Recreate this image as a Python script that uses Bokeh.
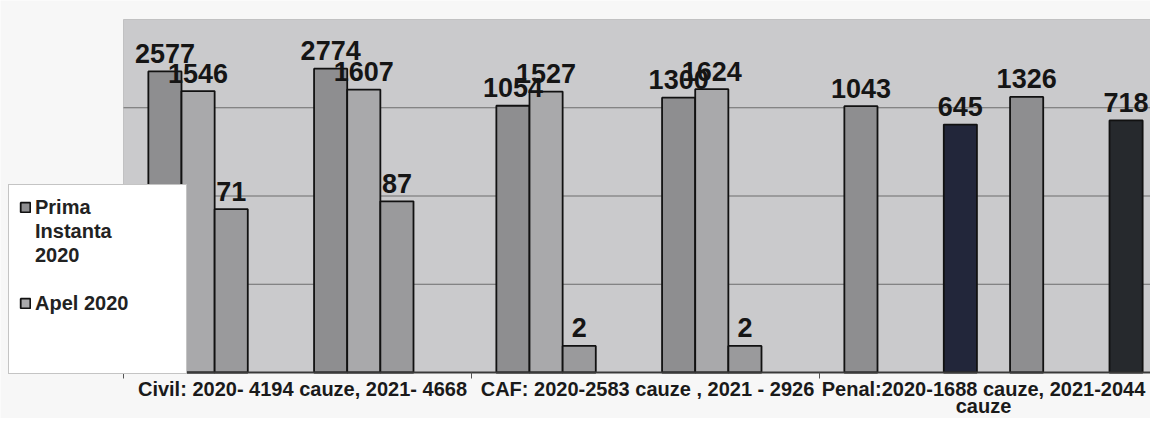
import math
from bokeh.plotting import figure
from bokeh.models import ColumnDataSource, Range1d, Legend, LegendItem, BoxAnnotation
from bokeh.embed import file_html
from bokeh.resources import INLINE
from bokeh.core.properties import value

# ---------------- data ----------------
categories = [
    "Civil: 2020- 4194 cauze, 2021- 4668",
    "CAF: 2020-2583 cauze , 2021 - 2926",
    "Penal:2020-1688 cauze, 2021-2044\ncauze",
]

series_names = [
    "Prima Instanta 2020", "Apel 2020", "Recurs 2020", "Seria 4 2020", "Seria 5 2020",
    "Prima Instanta 2021", "Apel 2021", "Recurs 2021", "Seria 4 2021",
]

prima_2020 = [2577, 1054, 1043]
apel_2020 = [1546, 1527, None]
recurs_2020 = [71, 2, None]
seria4_2020 = [None, None, 645]
seria5_2020 = [None, None, None]
prima_2021 = [2774, 1300, 1326]
apel_2021 = [1607, 1624, None]
recurs_2021 = [87, 2, None]
seria4_2021 = [None, None, 718]

series_values = [prima_2020, apel_2020, recurs_2020, seria4_2020, seria5_2020,
                 prima_2021, apel_2021, recurs_2021, seria4_2021]

legend_first_label = "Prima\nInstanta\n2020"

grid_values = [10, 100, 1000]
y_min, y_max = 1, 10000

# ---------------- styles / layout ----------------
series_colors = ["#8e8e90", "#a9a9ab", "#9a9a9c", "#22263a", "#22263a",
                 "#8e8e90", "#a9a9ab", "#9a9a9c", "#26292d"]

FIG_W, FIG_H = 1150, 418
PLOT_LEFT = 123          # px where the plot area starts
PLOT_TOP = 19            # px of the plot area top (y = 10000)
BASE_Y = 372             # px of the value axis base (y = 1)
DEC_PX = (BASE_Y - PLOT_TOP) / math.log10(y_max / y_min)
CAT_PX = 348.0           # px per category
n_slots = len(series_names)
gap = 1.5
slot_w = 1.0 / (n_slots + gap)

x_start = -PLOT_LEFT / CAT_PX
x_end = (FIG_W - PLOT_LEFT) / CAT_PX
y_lo = y_min * 10 ** (-(FIG_H - BASE_Y) / DEC_PX)
y_hi = y_min * 10 ** (BASE_Y / DEC_PX)

p = figure(width=FIG_W, height=FIG_H, output_backend="svg", toolbar_location=None,
           y_axis_type="log", x_axis_location=None, y_axis_location=None,
           x_range=Range1d(x_start, x_end), y_range=Range1d(y_lo, y_hi))
p.min_border = 0
p.grid.visible = False
p.background_fill_color = "#f7f7f7"
p.border_fill_color = "#f7f7f7"
p.outline_line_color = None

# plot area
p.add_layout(BoxAnnotation(left=0, bottom=y_min, top=y_max, fill_color="#cacacc",
                           fill_alpha=1, line_color="#7a7a7a", line_width=1,
                           level="underlay"))
# gridlines
p.segment(x0=[0] * len(grid_values), x1=[x_end] * len(grid_values),
          y0=grid_values, y1=grid_values, line_color="#6c6c6c", line_width=1)

renderers, sources = [], []
for k, (name, vals, col) in enumerate(zip(series_names, series_values, series_colors)):
    xs, ys = [], []
    for i, v in enumerate(vals):
        if v is not None:
            xs.append(i + (gap / 2 + k + 0.5) * slot_w)
            ys.append(v)
    src = ColumnDataSource(dict(x=xs, top=ys, label=[str(v) for v in ys]))
    r = p.vbar(x="x", top="top", bottom=y_min, width=slot_w, source=src,
               fill_color=col, line_color="#111111", line_width=1.8)
    renderers.append(r)
    sources.append(src)

for src in sources:
    p.text(x="x", y="top", text="label", source=src, y_offset=-18,
           text_align="center", text_baseline="alphabetic",
           text_font=value("Liberation Sans"), text_font_style="bold",
           text_font_size="27px", text_color="#151515")

# category axis: base line, boundary ticks, labels (one text per line)
n_cat = len(categories)
p.segment(x0=[0], x1=[x_end], y0=[y_min], y1=[y_min], line_color="#3a3a3a", line_width=2)
p.ray(x=list(range(n_cat + 1)), y=[y_min] * (n_cat + 1), length=6, length_units="screen",
      angle=-math.pi / 2, line_color="#555555", line_width=1)
cat_dx = [5, 2, -10]
lx, ly, lt, ldx, ldy = [], [], [], [], []
for i, cat in enumerate(categories):
    for j, line in enumerate(cat.split("\n")):
        lx.append(i + 0.5)
        ly.append(y_min)
        lt.append(line)
        ldx.append(cat_dx[i])
        ldy.append(16 + 17 * j)
cat_src = ColumnDataSource(dict(x=lx, y=ly, text=lt, dx=ldx, dy=ldy))
p.text(x="x", y="y", text="text", x_offset="dx", y_offset="dy", source=cat_src,
       text_align="center", text_baseline="alphabetic",
       text_font=value("Liberation Sans"), text_font_style="bold",
       text_font_size="20px", text_color="#1a1a1a")

# legend (only the first two entries are visible in the reference; the box is cut)
dummy = p.vbar(x=[], top=[], bottom=1, width=0.1, fill_alpha=0, line_alpha=0)
first_lines = legend_first_label.split("\n")
items = [LegendItem(label=first_lines[0], renderers=[renderers[0]])]
items += [LegendItem(label=t, renderers=[dummy]) for t in first_lines[1:]]
items += [LegendItem(label=" ", renderers=[dummy]),
          LegendItem(label=series_names[1], renderers=[renderers[1]]),
          LegendItem(label=" ", renderers=[dummy]),
          LegendItem(label=" ", renderers=[dummy])]
legend = Legend(items=items, location=(8, FIG_H - 374))
legend.background_fill_color = "white"
legend.background_fill_alpha = 1
legend.border_line_color = "#8a8a8a"
legend.border_line_width = 1
legend.padding = 10
legend.margin = 0
legend.spacing = 0
legend.glyph_width = 12
legend.glyph_height = 12
legend.label_standoff = 4
legend.label_width = 141
legend.label_height = 24
legend.label_text_font = "Liberation Sans"
legend.label_text_font_style = "bold"
legend.label_text_font_size = "20px"
legend.label_text_color = "#222222"
p.add_layout(legend, "center")

open("out.html", "w").write(file_html(p, INLINE))
